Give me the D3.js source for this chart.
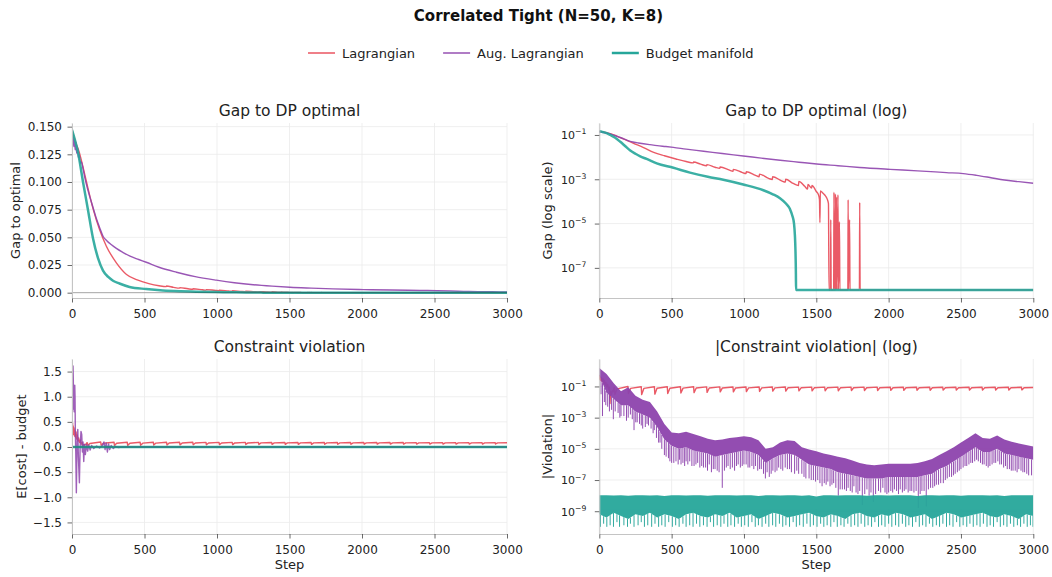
<!DOCTYPE html>
<html>
<head>
<meta charset="utf-8">
<script src="https://cdn.jsdelivr.net/npm/d3@7"></script>
<style>
body{margin:0;background:#fff;}
svg{font-family:"DejaVu Sans",sans-serif;}
</style>
</head>
<body>
<div id="chart"></div>
<script>
// ---------- data ----------
var seriesNames=['Lagrangian','Aug. Lagrangian','Budget manifold'];
var seriesColors=['#e84855','#8e44ad','#26a69a'];

var xTicks=[0,500,1000,1500,2000,2500,3000];
var gapLinTicks=[0,0.025,0.05,0.075,0.1,0.125,0.15];
var gapLogTicks=[1e-1,1e-3,1e-5,1e-7];
var violLinTicks=[-1.5,-1,-0.5,0,0.5,1,1.5];
var violLogTicks=[1e-1,1e-3,1e-5,1e-7,1e-9];

// gap to DP optimal  [step, gap]
var gapLag=[[0,0.147],[25,0.136],[50,0.127],[75,0.114],[100,0.100],[145,0.076],[190,0.057],[237,0.042],[306,0.027],[376,0.0165],[450,0.0115],[530,0.0082],[600,0.0063],[650,0.0055],[652,0.006],[700,0.0048],[742,0.0041],[744,0.0046],[800,0.0035],[833,0.0031],[835,0.0036],[900,0.0026],[924,0.0023],[926,0.0028],[990,0.0020],[1014,0.0018],[1016,0.0022],[1080,0.0015],[1105,0.0013],[1107,0.0017],[1170,0.0011],[1196,0.00098],[1198,0.0013],[1260,0.00085],[1286,0.00074],[1288,0.001],[1340,0.00065],[1377,0.00052],[1379,0.0008],[1420,0.00048],[1440,0.00036],[1442,0.00058],[1468,0.0004],[1470,0.00052],[1500,0.00028],[1515,0.0002],[1522,0.00012],[1525,1.1e-5],[1528,3e-4],[1545,2.4e-4],[1560,1.9e-4],[1575,1.3e-4],[1584,8e-5],[1588,1e-8],[1598,1e-8],[1600,1.5e-5],[1603,1e-8],[1620,1e-8],[1622,2.6e-4],[1625,1e-8],[1630,1e-8],[1632,2.2e-4],[1635,1e-8],[1640,1.6e-4],[1643,1e-8],[1650,2e-4],[1653,1e-8],[1660,1.2e-5],[1663,1e-8],[1718,1e-8],[1720,1.2e-4],[1723,1e-8],[1730,1.5e-5],[1733,1e-8],[1798,1e-8],[1800,9e-5],[1803,1e-8],[3000,1e-8]];
var gapAug=[[0,0.147],[4,0.135],[8,0.141],[12,0.132],[17,0.138],[22,0.129],[27,0.136],[32,0.126],[38,0.131],[44,0.122],[50,0.125],[57,0.117],[65,0.118],[76,0.112],[90,0.103],[105,0.095],[122,0.087],[145,0.077],[168,0.067],[190,0.059],[214,0.051],[240,0.047],[270,0.0435],[306,0.040],[350,0.0365],[400,0.033],[460,0.030],[512,0.0275],[600,0.023],[721,0.0185],[850,0.0145],[995,0.0113],[1120,0.0090],[1250,0.0072],[1380,0.0059],[1503,0.0049],[1650,0.0041],[1800,0.0034],[2010,0.0028],[2200,0.0024],[2400,0.0020],[2516,0.0018],[2608,0.0015],[2700,0.0012],[2800,0.00093],[2900,0.00078],[3000,0.00066]];
var gapBM=[[0,0.147],[20,0.138],[41,0.127],[76,0.100],[110,0.075],[145,0.049],[180,0.031],[214,0.020],[250,0.0142],[283,0.0108],[327,0.0083],[397,0.0052],[512,0.0033],[627,0.0020],[750,0.0013],[857,0.00095],[995,0.00058],[1134,0.00032],[1200,0.00021],[1249,0.00014],[1290,8e-5],[1318,4.5e-5],[1335,2.2e-5],[1346,1e-5],[1352,3e-6],[1356,6e-7],[1359,5e-8],[1360,1e-8],[3000,1e-8]];

// signed violation E[cost] - budget
var violLagStart=[[0,0.55],[2,0.3],[4,0.48],[6,0.27],[8,0.42],[11,0.25],[14,0.38],[17,0.22],[20,0.33],[24,0.2],[28,0.3],[32,0.16],[36,0.24],[41,0.12],[46,0.18],[52,0.09],[58,0.14],[64,0.06],[70,0.09],[74,0.008],[78,0.05],[84,0.03],[90,0.055],[96,0.045],[102,0.085]];
var lagToothSteps=[105,198,290,381,470,561,652,742,833,924,1014,1105,1196,1286,1377,1468,1558,1649,1740,1830,1921,2012,2102,2193,2284,2374,2465,2556,2646,2737,2828,2918];
var lagToothPeak=[0.085,0.1,0.095,0.095,0.095,0.095,0.095,0.094,0.094,0.093,0.093,0.092,0.092,0.092,0.091,0.091,0.09,0.09,0.09,0.09,0.09,0.089,0.089,0.089,0.089,0.088,0.088,0.088,0.088,0.088,0.088,0.088];
var lagToothLow=[0.03,0.035,0.03,0.032,0.035,0.038,0.04,0.042,0.045,0.045,0.047,0.048,0.05,0.05,0.052,0.052,0.053,0.053,0.055,0.055,0.055,0.056,0.056,0.057,0.057,0.058,0.058,0.058,0.058,0.059,0.059,0.06];
var lagToothMid=[0.07,0.075,0.075,0.076,0.077,0.078,0.079,0.08,0.08,0.08,0.081,0.081,0.081,0.082,0.082,0.082,0.082,0.082,0.083,0.083,0.083,0.083,0.083,0.083,0.083,0.083,0.083,0.083,0.083,0.083,0.083,0.083];
var violLagEnd=[[3000,0.086]];
var violAug=[[0,0.9],[4,1.35],[7,1.61],[9,1.35],[11,0.75],[13,1.0],[15,0.7],[18,1.15],[19,1.23],[21,1.0],[23,0.3],[26,-0.1],[30,-0.91],[35,0.1],[40,0.35],[44,-0.2],[51,-0.71],[56,0.0],[62,0.31],[67,0.25],[72,-0.1],[76,0.1],[81,-0.29],[86,0.05],[92,-0.15],[100,0.05],[108,-0.08],[116,0.04],[125,-0.06],[135,0.03],[150,-0.03],[170,0.02],[190,-0.02],[210,0.03],[220,0.1],[228,-0.05],[236,0.08],[244,-0.1],[252,0.06],[260,-0.05],[270,0.03],[285,-0.03],[300,0.01],[320,-0.01],[350,0],[3000,0]];
var violBM=[[0,0],[3000,0]];

// |violation| of the noisy series: log10 band edges every 50 steps, plus downward spikes [step, log10]
var bandSteps=d3.range(0,3001,50);
var augBandHi=[0.18,-0.2,-0.8,-1.3,-1.05,-1.6,-1.85,-2.0,-2.6,-3.4,
-3.95,-4.0,-3.9,-4.05,-4.2,-4.35,-4.45,-4.4,-4.3,-4.25,
-4.2,-4.25,-4.45,-5.0,-4.9,-4.6,-4.45,-4.5,-4.9,-5.05,
-5.15,-5.3,-5.4,-5.5,-5.6,-5.75,-5.9,-6.0,-6.05,-6.0,
-5.95,-5.95,-5.95,-5.95,-5.9,-5.8,-5.65,-5.4,-5.15,-4.9,
-4.6,-4.3,-4.0,-4.3,-4.35,-4.15,-4.4,-4.55,-4.65,-4.75,
-4.85];
var augBandLo=[-0.3,-1.4,-1.8,-2.2,-2.2,-2.6,-2.8,-3.0,-3.6,-4.4,
-4.8,-5.0,-4.9,-5.1,-5.2,-5.3,-5.5,-5.4,-5.3,-5.2,
-5.1,-5.2,-5.4,-5.9,-5.6,-5.4,-5.3,-5.4,-5.7,-6.0,
-6.1,-6.2,-6.3,-6.5,-6.6,-6.7,-6.8,-6.9,-6.9,-6.9,
-6.8,-6.8,-6.8,-6.8,-6.8,-6.7,-6.6,-6.3,-6.1,-5.8,
-5.5,-5.2,-4.9,-5.2,-5.2,-5.0,-5.3,-5.4,-5.5,-5.6,
-5.7];
var augSpikes=[[12,-1.5],[22,-2.9],[35,-2.0],[45,-2.2],[58,-2.3],[70,-2.6],[85,-2.5],[97,-3.1],[110,-2.6],[130,-2.7],[142,-3.0],[150,-2.9],[170,-2.9],[188,-3.2],[200,-3.0],[215,-2.8],[228,-3.1],[240,-3.8],[252,-3.3],[262,-3.3],[278,-3.4],[290,-3.5],[300,-3.7],[318,-3.6],[330,-3.4],[340,-3.5],[358,-3.7],[372,-4.0],[380,-3.8],[395,-4.3],[410,-4.6],[420,-4.6],[432,-5.0],[450,-5.4],[462,-5.5],[478,-5.6],[488,-5.8],[500,-5.9],[515,-5.9],[530,-5.8],[545,-6.0],[555,-5.7],[565,-6.0],[578,-5.9],[590,-6.1],[600,-5.8],[612,-6.0],[625,-5.8],[640,-6.1],[655,-6.1],[668,-6.0],[680,-5.9],[695,-6.2],[708,-6.1],[720,-6.2],[735,-6.2],[748,-6.4],[760,-6.0],[775,-6.5],[788,-6.3],[800,-6.3],[815,-6.4],[828,-6.5],[850,-7.5],[865,-6.4],[878,-6.2],[890,-6.1],[905,-6.3],[920,-6.2],[935,-6.4],[948,-6.1],[960,-6.0],[975,-6.2],[988,-6.1],[1000,-6.0],[1015,-6.0],[1028,-6.2],[1040,-6.2],[1055,-6.1],[1068,-6.3],[1080,-6.1],[1095,-6.4],[1108,-6.3],[1120,-6.3],[1135,-6.6],[1148,-6.9],[1160,-6.5],[1175,-6.8],[1188,-6.6],[1200,-6.4],[1215,-6.5],[1228,-6.4],[1240,-6.2],[1255,-6.3],[1268,-6.4],[1285,-6.2],[1300,-6.3],[1315,-6.3],[1328,-6.5],[1350,-6.6],[1365,-6.4],[1378,-6.6],[1400,-6.6],[1415,-6.8],[1428,-6.9],[1450,-6.9],[1465,-7.0],[1480,-7.0],[1495,-7.1],[1510,-7.0],[1525,-7.2],[1540,-7.4],[1555,-7.2],[1568,-7.3],[1580,-7.1],[1595,-7.4],[1608,-7.3],[1620,-7.2],[1635,-7.5],[1652,-8.0],[1665,-7.6],[1680,-7.6],[1695,-7.6],[1708,-7.7],[1720,-7.5],[1735,-7.7],[1748,-7.8],[1760,-7.4],[1775,-7.8],[1788,-7.9],[1800,-7.7],[1818,-8.6],[1835,-7.9],[1850,-7.6],[1865,-8.0],[1878,-7.8],[1894,-8.4],[1910,-7.9],[1930,-7.7],[1945,-7.8],[1960,-7.5],[1975,-7.8],[1988,-7.9],[2000,-7.8],[2015,-7.7],[2028,-7.8],[2040,-7.6],[2055,-7.7],[2068,-7.9],[2080,-7.6],[2095,-7.8],[2108,-7.7],[2120,-7.6],[2135,-7.8],[2148,-7.7],[2160,-7.7],[2175,-7.8],[2190,-7.7],[2205,-8.8],[2218,-7.9],[2230,-7.7],[2245,-7.7],[2260,-8.7],[2275,-7.6],[2290,-7.5],[2305,-7.5],[2318,-7.4],[2330,-7.3],[2345,-7.3],[2360,-7.2],[2378,-7.2],[2392,-7.0],[2405,-6.9],[2420,-6.8],[2435,-6.8],[2448,-6.7],[2460,-6.6],[2475,-6.5],[2488,-6.4],[2500,-6.3],[2515,-6.2],[2528,-6.1],[2540,-6.1],[2555,-6.0],[2568,-5.9],[2580,-5.9],[2595,-5.8],[2608,-5.7],[2620,-5.8],[2635,-5.9],[2648,-6.0],[2660,-6.0],[2675,-6.1],[2688,-6.2],[2700,-6.1],[2715,-6.0],[2728,-5.9],[2740,-5.9],[2755,-5.8],[2768,-6.0],[2780,-6.0],[2795,-6.2],[2808,-6.1],[2820,-6.3],[2835,-6.3],[2848,-6.4],[2860,-6.4],[2875,-6.4],[2888,-6.5],[2900,-6.3],[2915,-6.4],[2928,-6.5],[2940,-6.5],[2955,-6.6],[2968,-6.7],[2988,-6.7]];
var bmBandHi=[-7.98,-7.98,-7.99,-7.98,-8.0,-7.98,-7.98,-7.99,-7.98,-8.02,
-7.98,-7.98,-7.99,-7.98,-7.98,-8.0,-7.98,-7.98,-7.98,-7.99,
-7.98,-7.98,-8.02,-7.98,-7.98,-7.99,-7.98,-7.98,-8.0,-7.98,
-8.05,-7.98,-7.98,-7.99,-7.98,-7.98,-7.98,-8.0,-7.98,-7.98,
-7.99,-7.98,-7.98,-7.98,-8.02,-7.98,-7.98,-7.99,-7.98,-7.98,
-8.0,-7.98,-7.98,-7.98,-7.99,-7.98,-8.02,-7.98,-7.98,-7.98,
-7.98];
var bmBandLo=[-9.2,-9.4,-9.1,-9.3,-9.5,-9.2,-9.3,-9.1,-9.4,-9.2,
-9.3,-9.5,-9.2,-9.1,-9.3,-9.4,-9.2,-9.3,-9.1,-9.4,
-9.3,-9.2,-9.5,-9.3,-9.1,-9.2,-9.4,-9.3,-9.2,-9.1,
-9.3,-9.4,-9.2,-9.3,-9.5,-9.2,-9.1,-9.3,-9.4,-9.2,
-9.3,-9.1,-9.2,-9.4,-9.3,-9.2,-9.5,-9.3,-9.1,-9.2,
-9.4,-9.3,-9.2,-9.1,-9.3,-9.4,-9.2,-9.3,-9.5,-9.2,
-9.3];
var bmSpikes=[[8,-10.0],[30,-9.8],[52,-10.0],[75,-9.9],[98,-10.0],[122,-9.7],[140,-10.0],[170,-9.9],[195,-10.0],[215,-9.8],[240,-10.0],[268,-9.9],[290,-9.7],[312,-10.0],[335,-9.9],[362,-10.0],[385,-9.8],[410,-10.0],[432,-9.9],[455,-10.0],[480,-9.7],[505,-10.0],[528,-9.9],[552,-10.0],[578,-9.8],[600,-10.0],[625,-9.9],[648,-10.0],[672,-9.8],[695,-10.0],[720,-9.9],[745,-10.0],[768,-9.7],[790,-10.0],[815,-9.9],[840,-10.0],[862,-9.8],[888,-10.0],[910,-9.9],[935,-10.0],[960,-9.8],[982,-10.0],[1005,-9.9],[1030,-10.0],[1055,-9.7],[1078,-10.0],[1100,-9.9],[1125,-10.0],[1150,-9.8],[1172,-10.0],[1198,-9.9],[1220,-10.0],[1245,-9.8],[1268,-10.0],[1290,-9.9],[1315,-10.0],[1340,-9.7],[1362,-10.0],[1385,-9.9],[1410,-10.0],[1435,-9.8],[1458,-10.0],[1480,-9.9],[1505,-10.0],[1530,-9.8],[1552,-10.0],[1575,-9.9],[1600,-10.0],[1622,-9.7],[1645,-10.0],[1670,-9.9],[1692,-10.0],[1718,-9.8],[1740,-10.0],[1765,-9.9],[1788,-10.0],[1810,-9.8],[1835,-10.0],[1858,-9.9],[1882,-10.0],[1905,-9.7],[1930,-10.0],[1952,-9.9],[1975,-10.0],[2000,-9.8],[2022,-10.0],[2048,-9.9],[2070,-10.0],[2095,-9.8],[2118,-10.0],[2140,-9.9],[2165,-10.0],[2188,-9.7],[2212,-10.0],[2235,-9.9],[2258,-10.0],[2282,-9.8],[2305,-10.0],[2330,-9.9],[2352,-10.0],[2375,-9.8],[2400,-10.0],[2422,-9.9],[2445,-10.0],[2470,-9.7],[2492,-10.0],[2515,-9.9],[2540,-10.0],[2562,-9.8],[2585,-10.0],[2610,-9.9],[2632,-10.0],[2655,-9.8],[2680,-10.0],[2702,-9.9],[2725,-10.0],[2750,-9.7],[2772,-10.0],[2795,-9.9],[2818,-10.0],[2842,-9.8],[2865,-10.0],[2890,-9.9],[2912,-10.0],[2935,-9.8],[2958,-10.0],[2980,-9.9],[2998,-10.0]];

// build the sawtooth of the Lagrangian violation from the tooth tables
var violLag=violLagStart.slice();
lagToothSteps.forEach(function(s,i){
	violLag.push([s,lagToothPeak[i]],[s+3,lagToothLow[i]],[s+18,lagToothMid[i]]);
});
violLag=violLag.concat(violLagEnd);

// ---------- layout ----------
var svg=d3.select('#chart').append('svg').attr('width',1052).attr('height',577);
var TXT='#222';

var panels={
	gapLin:{x0:72,x1:507,y0:123,y1:298,dom:[-0.0048,0.1533],ticks:gapLinTicks,fmt:d3.format('.3f'),
		title:'Gap to DP optimal',ylab:'Gap to optimal',ylabX:20,titleY:116},
	gapLog:{x0:599.3,x1:1033.3,y0:123,y1:298,log:true,dom:[Math.pow(10,-8.36),Math.pow(10,-0.46)],ticks:gapLogTicks,
		title:'Gap to DP optimal (log)',ylab:'Gap (log scale)',ylabX:552,titleY:116},
	violLin:{x0:72,x1:507,y0:359,y1:534,dom:[-1.73,1.75],ticks:violLinTicks,fmt:d3.format('.1f'),
		title:'Constraint violation',ylab:'E[cost] - budget',ylabX:25.5,titleY:351.5,xlab:'Step'},
	violLog:{x0:599.3,x1:1033.3,y0:359,y1:534,log:true,dom:[Math.pow(10,-10.46),Math.pow(10,0.76)],ticks:violLogTicks,
		title:'|Constraint violation| (log)',ylab:'|Violation|',ylabX:552,titleY:351.5,xlab:'Step'}
};

function makePanel(key){
	var p=panels[key];
	var g=svg.append('g');
	var x=d3.scaleLinear().domain([0,3000]).range([p.x0,p.x1]);
	var y=(p.log?d3.scaleLog():d3.scaleLinear()).domain(p.dom).range([p.y1,p.y0]);
	//grid
	g.append('g').selectAll('line').data(xTicks).join('line')
		.attr('x1',function(d){return x(d);}).attr('x2',function(d){return x(d);})
		.attr('y1',p.y0).attr('y2',p.y1)
		.attr('stroke','#ebebeb').attr('stroke-width',0.8);
	g.append('g').selectAll('line').data(p.ticks).join('line')
		.attr('y1',function(d){return y(d);}).attr('y2',function(d){return y(d);})
		.attr('x1',p.x0).attr('x2',p.x1)
		.attr('stroke','#ebebeb').attr('stroke-width',0.8);
	svg.append('clipPath').attr('id','clip-'+key).append('rect')
		.attr('x',p.x0).attr('y',p.y0-2).attr('width',p.x1-p.x0).attr('height',p.y1-p.y0+2);
	var plot=g.append('g').attr('clip-path','url(#clip-'+key+')');
	return {key:key,p:p,g:g,plot:plot,x:x,y:y};
}

function finishPanel(P){
	var p=P.p;
	var ax=P.g.append('g').attr('transform','translate(0,'+p.y1+')')
		.call(d3.axisBottom(P.x).tickValues(xTicks).tickFormat(d3.format('d'))
			.tickSize(4.5).tickSizeOuter(0).tickPadding(6.5));
	var ay=P.g.append('g').attr('transform','translate('+p.x0+',0)')
		.call(d3.axisLeft(P.y).tickValues(p.ticks).tickSize(4.5).tickSizeOuter(0).tickPadding(5.5)
			.tickFormat(p.log?function(){return '';}:p.fmt));
	[ax,ay].forEach(function(a){
		a.attr('font-family','DejaVu Sans').attr('font-size',12);
		a.select('.domain').attr('stroke','#c4c4c4').attr('stroke-width',1);
		a.selectAll('.tick line').attr('stroke','#444').attr('stroke-width',0.8);
		a.selectAll('.tick text').attr('fill',TXT);
	});
	if(p.log){
		ay.selectAll('.tick').each(function(d){
			var t=d3.select(this).append('text').attr('x',-13).attr('y',3.8)
				.attr('text-anchor','end').attr('fill',TXT);
			t.append('tspan').attr('font-size',11).text('10');
			t.append('tspan').attr('dy',-4.8).attr('font-size',7.7)
				.text('\u2212'+Math.round(-Math.log10(d)));
		});
	}
	P.g.append('text').attr('x',(p.x0+p.x1)/2).attr('y',p.titleY).attr('text-anchor','middle')
		.attr('font-size',15.5).attr('fill',TXT).text(p.title);
	P.g.append('text').attr('transform','translate('+p.ylabX+','+((p.y0+p.y1)/2)+') rotate(-90)')
		.attr('text-anchor','middle').attr('font-size',13).attr('fill',TXT).text(p.ylab);
	if(p.xlab){
		P.g.append('text').attr('x',(p.x0+p.x1)/2).attr('y',569).attr('text-anchor','middle')
			.attr('font-size',13).attr('fill',TXT).text(p.xlab);
	}
}

function drawLine(P,data,i,opt){
	opt=opt||{};
	var line=d3.line()
		.x(function(d){return P.x(d[0]);})
		.y(function(d){return P.y(opt.abs?Math.abs(d[1]):d[1]);})
		.curve(opt.curve||d3.curveLinear);
	P.plot.append('path').datum(data).attr('d',line)
		.attr('fill','none').attr('stroke',seriesColors[i])
		.attr('stroke-width',i==2?2.5:1.4).attr('stroke-opacity',opt.op||0.9)
		.attr('stroke-linejoin','round');
}

function bandAt(arr,s){
	var k=Math.min(Math.floor(s/50),arr.length-2), t=(s-bandSteps[k])/50;
	return arr[k]+(arr[k+1]-arr[k])*t;
}

function drawBand(P,hi,lo,spikes,i){
	var rows=bandSteps.map(function(s,k){return [s,hi[k],lo[k]];});
	var area=d3.area()
		.x(function(d){return P.x(d[0]);})
		.y0(function(d){return P.y(Math.pow(10,d[2]));})
		.y1(function(d){return P.y(Math.pow(10,d[1]));});
	var g=P.plot.append('g').attr('opacity',0.95);
	g.append('path').datum(rows).attr('d',area).attr('fill',seriesColors[i]);
	g.selectAll('line').data(spikes).join('line')
		.attr('x1',function(d){return P.x(d[0]);}).attr('x2',function(d){return P.x(d[0]);})
		.attr('y1',function(d){return P.y(Math.pow(10,bandAt(lo,d[0])));})
		.attr('y2',function(d){return P.y(Math.pow(10,d[1]));})
		.attr('stroke',seriesColors[i]).attr('stroke-width',1);
}

function zeroLine(P){
	P.plot.append('line').attr('x1',P.p.x0).attr('x2',P.p.x1)
		.attr('y1',P.y(0)).attr('y2',P.y(0))
		.attr('stroke','#000').attr('stroke-opacity',0.3).attr('stroke-width',1);
}

// top left: gap, linear
var A=makePanel('gapLin');
drawLine(A,gapLag,0,{curve:d3.curveMonotoneX});
drawLine(A,gapAug,1,{curve:d3.curveMonotoneX});
drawLine(A,gapBM,2,{curve:d3.curveMonotoneX});
zeroLine(A);
finishPanel(A);

// top right: gap, log
var B=makePanel('gapLog');
drawLine(B,gapLag,0,{curve:d3.curveMonotoneX});
drawLine(B,gapAug,1,{curve:d3.curveMonotoneX});
drawLine(B,gapBM,2,{curve:d3.curveMonotoneX});
finishPanel(B);

// bottom left: signed violation
var C=makePanel('violLin');
drawLine(C,violLag,0);
drawLine(C,violAug,1,{op:0.85});
drawLine(C,violBM,2);
zeroLine(C);
finishPanel(C);

// bottom right: |violation|, log
var D=makePanel('violLog');
drawLine(D,violLag,0,{abs:true});
drawBand(D,augBandHi,augBandLo,augSpikes,1);
drawBand(D,bmBandHi,bmBandLo,bmSpikes,2);
finishPanel(D);

// suptitle + legend
svg.append('text').attr('x',538.5).attr('y',21).attr('text-anchor','middle')
	.attr('font-size',15).attr('font-weight','bold').attr('fill','#111')
	.text('Correlated Tight (N=50, K=8)');

var leg=svg.append('g'), lx=308;
seriesNames.forEach(function(n,i){
	leg.append('line').attr('x1',lx).attr('x2',lx+27).attr('y1',53).attr('y2',53)
		.attr('stroke',seriesColors[i]).attr('stroke-width',i==2?2.5:1.4);
	var t=leg.append('text').attr('x',lx+34).attr('y',57.7).attr('font-size',13)
		.attr('fill',TXT).text(n);
	lx+=34+t.node().getComputedTextLength()+28;
});
</script>
</body>
</html>
